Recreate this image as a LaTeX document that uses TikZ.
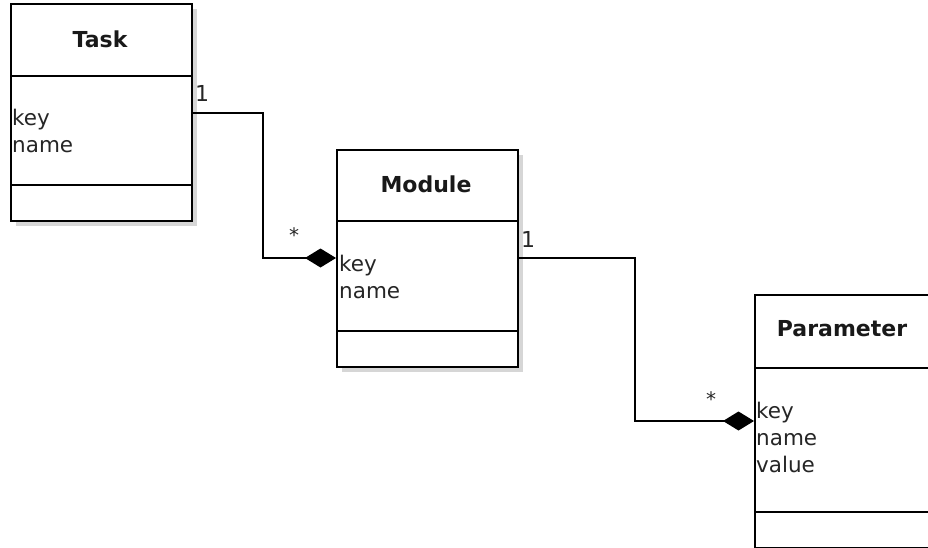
\documentclass[tikz,border=0pt]{standalone}
\usepackage{fontspec}
\setmainfont{DejaVu Sans}
\usetikzlibrary{arrows.meta,shadows}
\begin{document}
\begin{tikzpicture}[x=1pt,y=-1pt,
  classbox/.style={draw=black, line width=1.8pt, fill=white, anchor=north west, inner sep=0pt,
    drop shadow={shadow xshift=5pt, shadow yshift=-5pt, fill=black!16, opacity=1}},
  divider/.style={draw=black, line width=1.8pt},
  title/.style={font=\fontsize{22}{26}\selectfont\bfseries, text=black!90},
  attr/.style={font=\fontsize{21.5}{27}\selectfont, text=black!85, anchor=west, inner sep=0pt, align=left},
  mult/.style={font=\fontsize{22}{24}\selectfont, text=black!85, inner sep=0pt},
  star/.style={font=\fontsize{20}{22}\selectfont, text=black!85, inner sep=0pt},
  conn/.style={draw=black, line width=1.6pt},
  comp/.style={conn, {Diamond[length=31pt,width=19pt,fill=black]}-}
]
\clip (0,0) rectangle (928,548);
\fill[white] (0,0) rectangle (928,548);

% Task
\node[classbox, minimum width=181pt, minimum height=217pt] (task) at (10,3) {};
\draw[divider] (10,76) -- (191,76);
\draw[divider] (10,185) -- (191,185);
\node[title] (tasktitle) at (100,39) {Task};
\node[attr] (taskattr) at (12,131) {key\\name};

% Module
\node[classbox, minimum width=181pt, minimum height=217pt] (module) at (336,149) {};
\draw[divider] (336,221) -- (517,221);
\draw[divider] (336,331) -- (517,331);
\node[title] (moduletitle) at (426,184) {Module};
\node[attr] (moduleattr) at (339,277) {key\\name};

% Parameter
\node[classbox, minimum width=181pt, minimum height=253pt] (param) at (754,294) {};
\draw[divider] (754,368) -- (935,368);
\draw[divider] (754,512) -- (935,512);
\node[title] (paramtitle) at (842,329) {Parameter};
\node[attr] (paramattr) at (756,437) {key\\name\\value};

% connectors
\coordinate (t1) at (191,113);
\coordinate (m1) at (336,258);
\coordinate (m2) at (517,258);
\coordinate (p1) at (754,421);
\draw[comp] (m1) -- (263,258) -- (263,113) -- (t1);
\draw[comp] (p1) -- (635,421) -- (635,258) -- (m2);

\node[mult] (l1) at (202,93) {1};
\node[star] (l2) at (294,235) {*};
\node[mult] (l3) at (528,239) {1};
\node[star] (l4) at (711,399) {*};
\end{tikzpicture}
\end{document}
